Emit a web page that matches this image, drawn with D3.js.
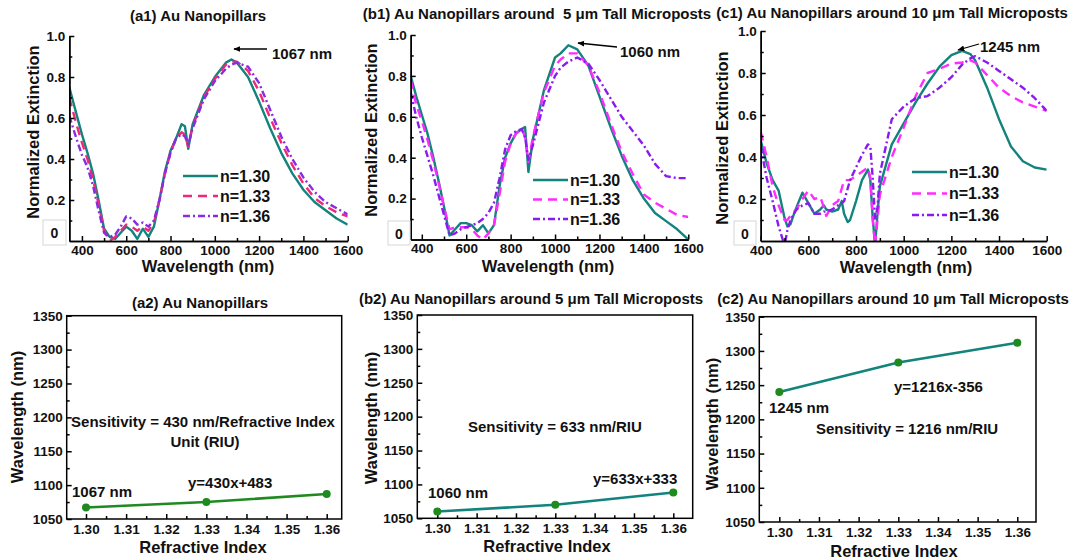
<!DOCTYPE html>
<html>
<head>
<meta charset="utf-8">
<script src="https://cdn.jsdelivr.net/npm/d3@7"></script>
<style>
    body { margin: 0; background: #fff; }
    svg text { font-family: 'Liberation Sans', Arial, sans-serif; font-weight: bold; fill: #111; white-space: pre; }
    .axis path, .axis line { stroke: #000; stroke-width: 1.5; }
    .axis text { font-size: 13.5px; font-family: 'Liberation Sans', Arial, sans-serif; font-weight: bold; fill: #111; }
</style>
</head>
<body>
<svg id="chart" width="1080" height="560"></svg>
<script>
// ---- (a1) spectra ----
const a1Wavelength = [343, 375, 400, 425, 450, 475, 500, 525, 550, 575, 600, 625, 650, 675, 700, 725, 750, 775, 800, 825, 850, 865, 880, 900, 950, 1000, 1050, 1075, 1100, 1150, 1200, 1250, 1300, 1350, 1400, 1450, 1500, 1550, 1600];
const a1N130 = [0.75, 0.62, 0.52, 0.43, 0.33, 0.2, 0.06, 0.02, 0.01, 0.04, 0.07, 0.05, 0.01, 0.06, 0.02, 0.07, 0.2, 0.34, 0.44, 0.5, 0.57, 0.56, 0.45, 0.57, 0.71, 0.8, 0.87, 0.885, 0.87, 0.8, 0.68, 0.55, 0.43, 0.33, 0.25, 0.19, 0.15, 0.11, 0.08];
const a1N133 = [0.7, 0.57, 0.48, 0.4, 0.3, 0.18, 0.05, 0.0, 0.02, 0.05, 0.08, 0.07, 0.05, 0.07, 0.05, 0.09, 0.2, 0.33, 0.43, 0.5, 0.53, 0.52, 0.46, 0.56, 0.7, 0.79, 0.86, 0.875, 0.875, 0.83, 0.73, 0.6, 0.48, 0.37, 0.28, 0.21, 0.17, 0.14, 0.12];
const a1N136 = [0.61, 0.5, 0.42, 0.36, 0.27, 0.15, 0.04, 0.02, 0.03, 0.07, 0.12, 0.11, 0.08, 0.09, 0.07, 0.1, 0.2, 0.33, 0.43, 0.5, 0.52, 0.51, 0.47, 0.55, 0.69, 0.78, 0.84, 0.86, 0.87, 0.85, 0.77, 0.64, 0.51, 0.4, 0.31, 0.24, 0.19, 0.16, 0.13];

// ---- (b1) spectra ----
const b1Wavelength = [350, 375, 400, 425, 450, 475, 500, 525, 550, 575, 600, 625, 650, 675, 700, 725, 750, 775, 800, 825, 850, 865, 880, 900, 950, 1000, 1025, 1060, 1100, 1150, 1200, 1250, 1300, 1350, 1400, 1450, 1500, 1550, 1600];
const b1N130 = [0.8, 0.7, 0.61, 0.52, 0.41, 0.29, 0.16, 0.02, 0.05, 0.08, 0.08, 0.07, 0.04, 0.07, 0.03, 0.07, 0.26, 0.4, 0.47, 0.52, 0.54, 0.55, 0.33, 0.49, 0.73, 0.89, 0.91, 0.95, 0.93, 0.85, 0.7, 0.55, 0.41, 0.29, 0.2, 0.13, 0.09, 0.05, 0.0];
const b1N133 = [0.78, 0.66, 0.58, 0.49, 0.39, 0.28, 0.16, 0.05, 0.06, 0.06, 0.06, 0.05, 0.02, 0.0, 0.03, 0.07, 0.22, 0.38, 0.47, 0.52, 0.54, 0.5, 0.38, 0.5, 0.72, 0.85, 0.88, 0.91, 0.91, 0.85, 0.72, 0.57, 0.43, 0.32, 0.22, 0.18, 0.15, 0.12, 0.11];
const b1N136 = [0.72, 0.6, 0.5, 0.41, 0.32, 0.22, 0.12, 0.02, 0.03, 0.05, 0.06, 0.07, 0.08, 0.1, 0.13, 0.18, 0.3, 0.44, 0.51, 0.53, 0.54, 0.5, 0.39, 0.46, 0.67, 0.8, 0.84, 0.87, 0.89, 0.86, 0.78, 0.69, 0.6, 0.53, 0.46, 0.37, 0.31, 0.3, 0.3];

// ---- (c1) spectra ----
const c1Wavelength = [400, 425, 450, 475, 500, 512, 525, 540, 550, 575, 600, 625, 650, 665, 675, 700, 725, 740, 750, 765, 775, 800, 825, 850, 860, 870, 880, 890, 900, 950, 1000, 1050, 1100, 1150, 1200, 1245, 1280, 1300, 1350, 1400, 1450, 1500, 1550, 1600];
const c1N130 = [0.48, 0.37, 0.29, 0.24, 0.11, 0.07, 0.08, 0.13, 0.16, 0.23, 0.18, 0.13, 0.15, 0.17, 0.15, 0.14, 0.15, 0.19, 0.13, 0.09, 0.1, 0.19, 0.29, 0.34, 0.29, 0.11, -0.02, 0.13, 0.26, 0.46, 0.56, 0.66, 0.75, 0.83, 0.885, 0.905, 0.89, 0.86, 0.73, 0.58, 0.45, 0.38, 0.35, 0.34];
const c1N133 = [0.52, 0.4, 0.26, 0.17, 0.1, 0.1, 0.12, 0.14, 0.15, 0.2, 0.24, 0.2, 0.21, 0.16, 0.12, 0.17, 0.19, 0.25, 0.29, 0.29, 0.29, 0.31, 0.33, 0.35, 0.3, 0.1, -0.02, 0.1, 0.22, 0.4, 0.54, 0.69, 0.8, 0.82, 0.845, 0.85, 0.86, 0.85, 0.79, 0.73, 0.69, 0.66, 0.64, 0.62];
const c1N136 = [0.45, 0.3, 0.19, 0.07, -0.02, 0.05, 0.1, 0.13, 0.15, 0.17, 0.18, 0.13, 0.13, 0.14, 0.14, 0.15, 0.17, 0.18, 0.19, 0.25, 0.29, 0.35, 0.41, 0.46, 0.45, 0.3, 0.1, 0.16, 0.32, 0.58, 0.64, 0.68, 0.69, 0.73, 0.78, 0.84, 0.87, 0.88, 0.85, 0.81, 0.77, 0.73, 0.68, 0.62];

// ---- sensitivity (peak wavelength vs refractive index) ----
const refractiveIndex = [1.30, 1.33, 1.36];
const a2Peak = [1067, 1075, 1087];
const b2Peak = [1060, 1070, 1088];
const c2Peak = [1240, 1283, 1312];

const seriesNames = ['n=1.30', 'n=1.33', 'n=1.36'];
const spectrumXTicks = [400, 600, 800, 1000, 1200, 1400, 1600];
const spectrumXMinor = [500, 700, 900, 1100, 1300, 1500];
const spectrumYTicks = [0.2, 0.4, 0.6, 0.8, 1.0];
const spectrumYMinor = [0.1, 0.3, 0.5, 0.7, 0.9];
const indexTicks = [1.30, 1.31, 1.32, 1.33, 1.34, 1.35, 1.36];
const indexMinor = [1.305, 1.315, 1.325, 1.335, 1.345, 1.355];
const peakTicks = [1050, 1100, 1150, 1200, 1250, 1300, 1350];
const peakMinor = [1075, 1125, 1175, 1225, 1275, 1325];

const TEAL = '#13837d';
const GREEN = '#1f8a1f';

let svg = d3.select('#chart');
let defs = svg.append('defs');
defs.append('marker')
    .attr('id', 'arrow')
    .attr('viewBox', '0 0 10 10')
    .attr('refX', 9).attr('refY', 5)
    .attr('markerWidth', 7).attr('markerHeight', 7)
    .attr('markerUnits', 'userSpaceOnUse')
    .attr('orient', 'auto')
    .append('path')
    .attr('d', 'M0,1 L10,5 L0,9 Z')
    .attr('fill', '#000');

/**
 * Spectrum panel: three extinction curves against wavelength
 */
class SpectrumPanel {
    constructor(cfg) {
        this.cfg = cfg;
        this.xScale = d3.scaleLinear().domain(cfg.xDomain).range([cfg.left, cfg.right]);
        this.yScale = d3.scaleLinear().domain([0, 1]).range([cfg.bottom, cfg.top]);
        this.drawPlot();
    }

    drawPlot() {
        let cfg = this.cfg;
        let g = svg.append('g');

        defs.append('clipPath').attr('id', 'clip-' + cfg.id)
            .append('rect')
            .attr('x', cfg.left).attr('y', cfg.top - 10)
            .attr('width', cfg.right - cfg.left).attr('height', cfg.bottom - cfg.top + 10);

        let line = d3.line()
            .x(d => this.xScale(d[0]))
            .y(d => this.yScale(d[1]));

        let curves = g.append('g').attr('clip-path', 'url(#clip-' + cfg.id + ')');
        cfg.series.forEach((s, i) => {
            curves.append('path')
                .datum(cfg.wavelength.map((w, j) => [w, s[j]]))
                .attr('d', line)
                .attr('fill', 'none')
                .attr('stroke', cfg.colors[i])
                .attr('stroke-width', 2.4)
                .attr('stroke-linejoin', 'round')
                .attr('stroke-dasharray', cfg.dashes[i]);
        });

        // axes, ticks pointing inward
        g.append('g').classed('axis', true)
            .attr('transform', 'translate(0,' + cfg.bottom + ')')
            .call(d3.axisBottom(this.xScale).tickValues(spectrumXMinor).tickSizeInner(-3).tickSizeOuter(0).tickFormat(''));
        g.append('g').classed('axis', true)
            .attr('transform', 'translate(' + cfg.left + ',0)')
            .call(d3.axisLeft(this.yScale).tickValues(spectrumYMinor).tickSizeInner(-3).tickSizeOuter(0).tickFormat(''));
        g.append('g').classed('axis', true)
            .attr('transform', 'translate(0,' + cfg.bottom + ')')
            .call(d3.axisBottom(this.xScale).tickValues(spectrumXTicks).tickSizeInner(-5).tickSizeOuter(0).tickPadding(4).tickFormat(d3.format('d')));
        g.append('g').classed('axis', true)
            .attr('transform', 'translate(' + cfg.left + ',0)')
            .call(d3.axisLeft(this.yScale).tickValues(spectrumYTicks).tickSizeInner(-5).tickSizeOuter(0).tickPadding(4).tickFormat(d3.format('.1f')));

        // patched zero label
        g.append('rect')
            .attr('x', cfg.zeroBox[0]).attr('y', cfg.zeroBox[1])
            .attr('width', cfg.zeroBox[2]).attr('height', cfg.zeroBox[3])
            .attr('fill', '#fff').attr('stroke', '#d6d6d6').attr('stroke-width', 1);
        g.append('text')
            .attr('x', cfg.zeroBox[0] + cfg.zeroBox[2] / 2).attr('y', cfg.zeroBox[1] + 18)
            .attr('text-anchor', 'middle').style('font-size', '14px')
            .text('0');

        g.append('text')
            .attr('x', cfg.title[0]).attr('y', cfg.title[1])
            .attr('text-anchor', 'middle').style('font-size', '15px')
            .text(cfg.title[2]);
        g.append('text')
            .attr('x', cfg.xLabel[0]).attr('y', cfg.xLabel[1])
            .attr('text-anchor', 'middle').style('font-size', '16.5px')
            .text('Wavelength (nm)');
        g.append('text')
            .attr('transform', 'translate(' + cfg.yLabel[0] + ',' + cfg.yLabel[1] + ') rotate(-90)')
            .attr('text-anchor', 'middle').style('font-size', '16.5px')
            .text('Normalized Extinction');

        // legend
        let legend = g.append('g').attr('transform', 'translate(' + cfg.legend[0] + ',' + cfg.legend[1] + ')');
        seriesNames.forEach((name, i) => {
            let y = i * cfg.legend[2];
            legend.append('line')
                .attr('x1', 0).attr('x2', 35).attr('y1', y).attr('y2', y)
                .attr('stroke', cfg.colors[i]).attr('stroke-width', 2.6)
                .attr('stroke-dasharray', cfg.dashes[i]);
            legend.append('text')
                .attr('x', 37).attr('y', y + 5.8)
                .style('font-size', '16px')
                .text(name);
        });

        // peak annotation
        let a = cfg.arrow;
        g.append('line')
            .attr('x1', a[0]).attr('y1', a[1]).attr('x2', a[2]).attr('y2', a[3])
            .attr('stroke', '#000').attr('stroke-width', 1.3)
            .attr('marker-end', 'url(#arrow)');
        g.append('text')
            .attr('x', cfg.peakText[0]).attr('y', cfg.peakText[1])
            .style('font-size', '15px')
            .text(cfg.peakText[2]);
    }
}

/**
 * Sensitivity panel: resonance peak against refractive index
 */
class SensitivityPanel {
    constructor(cfg) {
        this.cfg = cfg;
        this.xScale = d3.scaleLinear().domain([1.30, 1.36]).range(cfg.xRange);
        this.yScale = d3.scaleLinear().domain([1050, 1350]).range([cfg.bottom, cfg.top]);
        this.drawPlot();
    }

    drawPlot() {
        let cfg = this.cfg;
        let g = svg.append('g');

        g.append('g').classed('axis', true)
            .attr('transform', 'translate(0,' + cfg.bottom + ')')
            .call(d3.axisBottom(this.xScale).tickValues(indexMinor).tickSizeInner(-3).tickSizeOuter(0).tickFormat(''));
        g.append('g').classed('axis', true)
            .attr('transform', 'translate(' + cfg.left + ',0)')
            .call(d3.axisLeft(this.yScale).tickValues(peakMinor).tickSizeInner(-3).tickSizeOuter(0).tickFormat(''));
        g.append('g').classed('axis', true)
            .attr('transform', 'translate(0,' + cfg.bottom + ')')
            .call(d3.axisBottom(this.xScale).tickValues(indexTicks).tickSizeInner(-5).tickSizeOuter(0).tickPadding(5).tickFormat(d3.format('.2f')));
        g.append('g').classed('axis', true)
            .attr('transform', 'translate(' + cfg.left + ',0)')
            .call(d3.axisLeft(this.yScale).tickValues(peakTicks).tickSizeInner(-5).tickSizeOuter(0).tickPadding(4).tickFormat(d3.format('d')));
        g.selectAll('.axis path').remove();

        g.append('rect')
            .attr('x', cfg.left).attr('y', cfg.top)
            .attr('width', cfg.right - cfg.left).attr('height', cfg.bottom - cfg.top)
            .attr('fill', 'none').attr('stroke', '#000').attr('stroke-width', 1.5);

        let pts = refractiveIndex.map((n, i) => [n, cfg.peaks[i]]);
        g.append('path')
            .datum(pts)
            .attr('d', d3.line().x(d => this.xScale(d[0])).y(d => this.yScale(d[1])))
            .attr('fill', 'none')
            .attr('stroke', cfg.lineColor)
            .attr('stroke-width', 2.6);
        g.selectAll('circle.pt')
            .data(pts).enter()
            .append('circle')
            .attr('cx', d => this.xScale(d[0]))
            .attr('cy', d => this.yScale(d[1]))
            .attr('r', 4)
            .attr('fill', GREEN);

        g.append('text')
            .attr('x', cfg.title[0]).attr('y', cfg.title[1])
            .attr('text-anchor', 'middle').style('font-size', '15px')
            .text(cfg.title[2]);
        g.append('text')
            .attr('x', cfg.xLabel[0]).attr('y', cfg.xLabel[1])
            .attr('text-anchor', 'middle').style('font-size', '16.5px')
            .text('Refractive Index');
        g.append('text')
            .attr('transform', 'translate(' + cfg.yLabel[0] + ',' + cfg.yLabel[1] + ') rotate(-90)')
            .attr('text-anchor', 'middle').style('font-size', '16.5px')
            .text('Wavelength (nm)');

        cfg.notes.forEach((n) => {
            g.append('text')
                .attr('x', n[0]).attr('y', n[1])
                .attr('text-anchor', n[3] || 'start')
                .style('font-size', '15px')
                .text(n[2]);
        });
    }
}

new SpectrumPanel({
    id: 'a1', xDomain: [343, 1600], left: 69.3, right: 347.7, top: 36, bottom: 241,
    wavelength: a1Wavelength, series: [a1N130, a1N133, a1N136],
    colors: [TEAL, '#f0287a', '#8a2be2'], dashes: [null, '9,6', '7,3,2,3'],
    zeroBox: [43, 220, 23, 25],
    title: [198, 21, '(a1) Au Nanopillars'],
    xLabel: [208, 272], yLabel: [39, 132],
    legend: [183, 176, 20],
    arrow: [267, 49, 234, 49], peakText: [272, 58.5, '1067 nm']
});
new SpectrumPanel({
    id: 'b1', xDomain: [350, 1600], left: 410.7, right: 688.3, top: 35, bottom: 239.5,
    wavelength: b1Wavelength, series: [b1N130, b1N133, b1N136],
    colors: [TEAL, '#ff2bff', '#8a1af0'], dashes: [null, '9,6', '7,3,2,3'],
    zeroBox: [388, 221, 22, 24],
    title: [537, 19, '(b1) Au Nanopillars around  5 μm Tall Microposts'],
    xLabel: [548, 272], yLabel: [377, 130],
    legend: [533, 180, 19.5],
    arrow: [617, 47, 578, 43], peakText: [620, 57, '1060 nm']
});
new SpectrumPanel({
    id: 'c1', xDomain: [400, 1600], left: 760.7, right: 1046.7, top: 31, bottom: 241,
    wavelength: c1Wavelength, series: [c1N130, c1N133, c1N136],
    colors: [TEAL, '#ff2bff', '#8a1af0'], dashes: [null, '9,6', '7,3,2,3'],
    zeroBox: [734, 221, 22, 24],
    title: [892, 18, '(c1) Au Nanopillars around 10 μm Tall Microposts'],
    xLabel: [906, 273], yLabel: [728, 138],
    legend: [912, 172, 21.5],
    arrow: [979, 44, 958, 50], peakText: [980, 52, '1245 nm']
});

new SensitivityPanel({
    left: 66.7, right: 341.7, top: 315.7, bottom: 519, xRange: [86, 326.7],
    peaks: a2Peak, lineColor: GREEN,
    title: [200, 308, '(a2) Au Nanopillars'],
    xLabel: [203, 553], yLabel: [22.5, 417],
    notes: [[203, 427, 'Sensitivity = 430 nm/Refractive Index', 'middle'],
            [205, 447, 'Unit (RIU)', 'middle'],
            [72, 497, '1067 nm'],
            [188, 488, 'y=430x+483']]
});
new SensitivityPanel({
    left: 417.3, right: 692.7, top: 315, bottom: 518.3, xRange: [437.3, 673.3],
    peaks: b2Peak, lineColor: TEAL,
    title: [531, 304, '(b2) Au Nanopillars around 5 μm Tall Microposts'],
    xLabel: [547, 552], yLabel: [377, 418],
    notes: [[468, 432, 'Sensitivity = 633 nm/RIU'],
            [428, 498, '1060 nm'],
            [593, 484, 'y=633x+333']]
});
new SensitivityPanel({
    left: 759.3, right: 1036, top: 316.7, bottom: 522, xRange: [779.3, 1017.3],
    peaks: c2Peak, lineColor: TEAL,
    title: [893, 304, '(c2) Au Nanopillars around 10 μm Tall Microposts'],
    xLabel: [894, 557], yLabel: [718, 424],
    notes: [[894, 392, 'y=1216x-356'],
            [769, 413, '1245 nm'],
            [816, 434, 'Sensitivity = 1216 nm/RIU']]
});
</script>
</body>
</html>
